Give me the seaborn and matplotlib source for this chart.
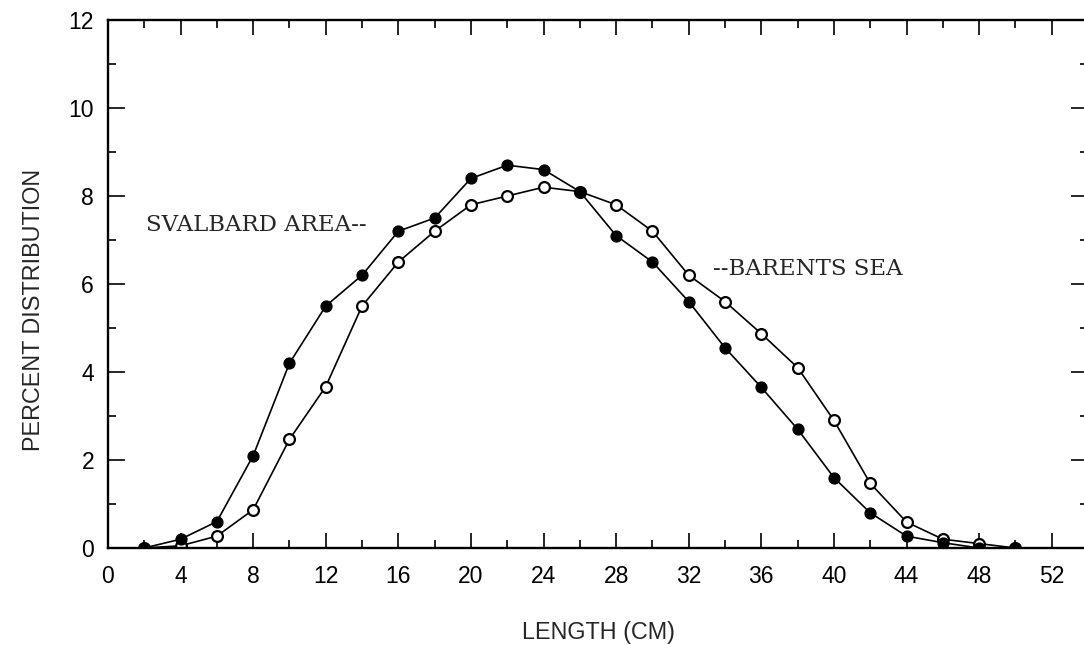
import matplotlib
matplotlib.use("Agg")
import matplotlib.pyplot as plt
import seaborn as sns
import pandas as pd
from matplotlib.ticker import MultipleLocator

length_cm = [2, 4, 6, 8, 10, 12, 14, 16, 18, 20, 22, 24, 26,
             28, 30, 32, 34, 36, 38, 40, 42, 44, 46, 48, 50]
svalbard = [0.0, 0.2, 0.6, 2.1, 4.2, 5.5, 6.2, 7.2, 7.5, 8.4, 8.7, 8.6, 8.1,
            7.1, 6.5, 5.6, 4.55, 3.65, 2.7, 1.6, 0.8, 0.27, 0.12, 0.0, 0.0]
barents = [0.0, 0.05, 0.27, 0.87, 2.47, 3.67, 5.5, 6.5, 7.2, 7.8, 8.0, 8.2, 8.1,
           7.8, 7.2, 6.2, 5.6, 4.87, 4.1, 2.9, 1.47, 0.59, 0.2, 0.1, 0.0]
x_ticks = [0, 4, 8, 12, 16, 20, 24, 28, 32, 36, 40, 44, 48, 52]
y_ticks = [0, 2, 4, 6, 8, 10, 12]

sns.set_style("ticks")
plt.rcParams["font.family"] = ["Liberation Sans", "DejaVu Sans"]

fig = plt.figure(figsize=(10.84, 6.45), dpi=100)
ax = fig.add_axes([108 / 1084, 97 / 645, 980 / 1084, 528 / 645])

df = pd.DataFrame({"length": length_cm, "svalbard": svalbard, "barents": barents})

sns.lineplot(data=df, x="length", y="barents", ax=ax, color="black", lw=1.2,
             marker="o", markersize=7.8, markerfacecolor="white",
             markeredgecolor="black", markeredgewidth=1.6)
sns.lineplot(data=df, x="length", y="svalbard", ax=ax, color="black", lw=1.2,
             marker="o", markersize=7.8, markerfacecolor="black",
             markeredgecolor="black", markeredgewidth=1.0)

ax.set_xlim(0, 54.0)
ax.set_ylim(0, 12)
ax.set_xticks(x_ticks)
ax.set_yticks(y_ticks)
ax.xaxis.set_minor_locator(MultipleLocator(2))
ax.yaxis.set_minor_locator(MultipleLocator(1))
ax.tick_params(which="both", direction="in", top=True, right=True,
               width=1.2, labelsize=16.5, color="black", labelcolor="black")
ax.tick_params(axis="x", which="major", length=11, pad=12)
ax.tick_params(axis="x", which="minor", length=6)
ax.tick_params(axis="y", which="major", length=12, pad=10)
ax.tick_params(axis="y", which="minor", length=6)
for s in ax.spines.values():
    s.set_linewidth(1.7)
    s.set_color("black")

ax.set_xlabel("LENGTH (CM)", fontsize=16.8, labelpad=24)
ax.set_ylabel("PERCENT DISTRIBUTION", fontsize=16.8)
ax.yaxis.set_label_coords(-0.064, 0.45)

ax.text(2.07, 7.34, "SVALBARD AREA--", family=["DejaVu Serif"], fontsize=16.5,
        va="center", ha="left")
ax.text(33.36, 6.34, "--BARENTS SEA", family=["DejaVu Serif"], fontsize=16.5,
        va="center", ha="left")

fig.savefig("out.png", dpi=100)
